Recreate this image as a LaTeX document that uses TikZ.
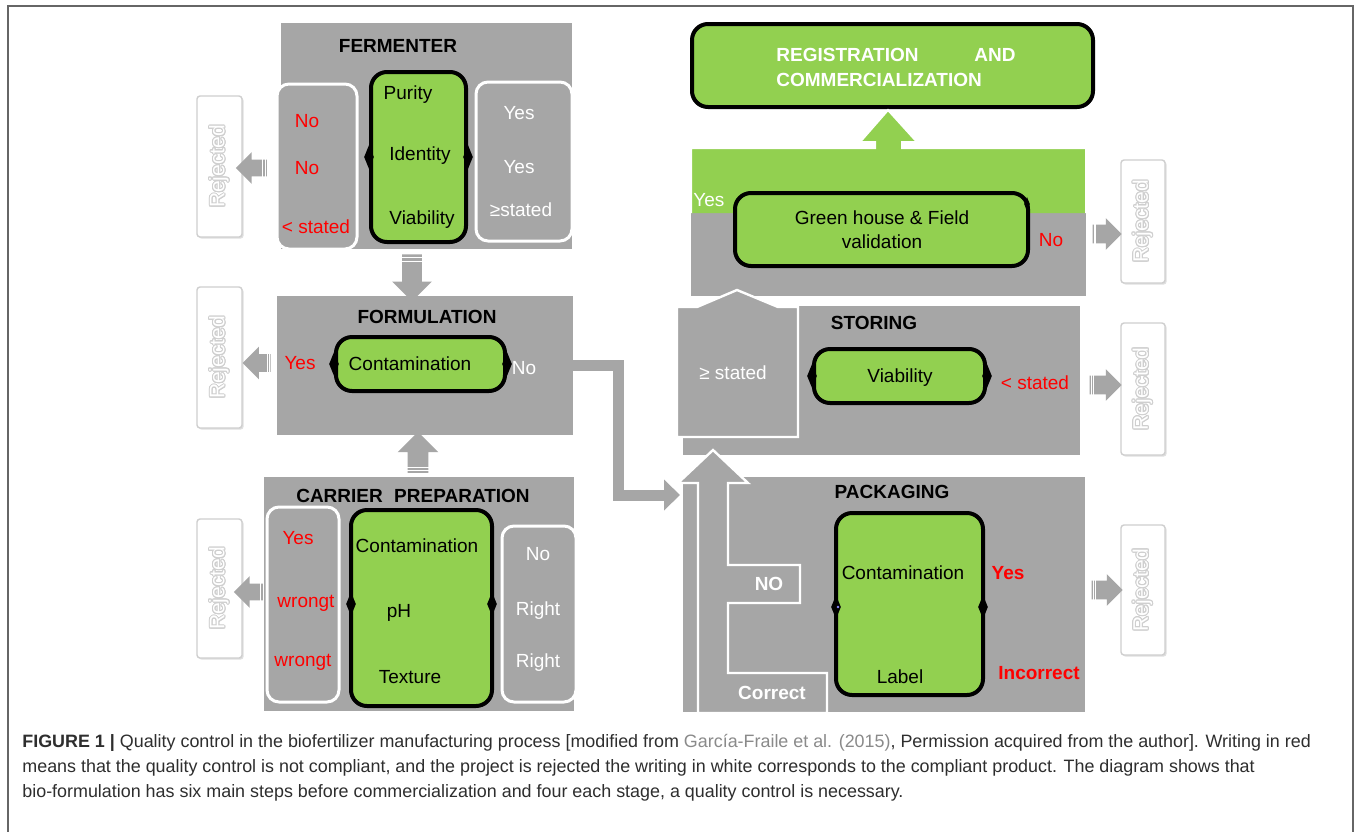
\documentclass[tikz,border=0pt]{standalone}
\usepackage{fontspec}
\setmainfont{Liberation Sans}
\usepackage[copies]{contour}
\contourlength{0.5pt}
\contournumber{16}
\usetikzlibrary{shapes.arrows,shapes.geometric,shadows,fit,arrows.meta,calc}
\definecolor{boxgray}{HTML}{A6A6A6}
\definecolor{qcgreen}{HTML}{92D050}
\definecolor{rejgray}{HTML}{CFCFCF}
\definecolor{capgray}{HTML}{2E2E2E}
\definecolor{linkgray}{HTML}{8A8A8A}
\definecolor{framegray}{HTML}{666666}
\tikzset{
  stage/.style={fill=boxgray, draw=none, inner sep=0pt},
  choice/.style={fill=boxgray, draw=white, line width=1.5pt, rounded corners=6pt, inner sep=0pt},
  test/.style={fill=qcgreen, draw=black, line width=2pt, rounded corners=8pt, inner sep=0pt},
  reject/.style={fill=white, draw=rejgray, line width=0.7pt, rounded corners=1.5pt, inner sep=0pt,
     drop shadow={opacity=0.25, shadow xshift=0.8pt, shadow yshift=-0.8pt}},
  rejtext/.style={rotate=90, font=\fontsize{10.5}{12}\selectfont},
  ttl/.style={font=\bfseries\fontsize{9.5}{11}\selectfont, text=black, inner sep=0pt},
  lbl/.style={font=\fontsize{9.5}{11}\selectfont, inner sep=0pt},
  bad/.style={lbl, text=red},
  badb/.style={font=\bfseries\fontsize{9.5}{11}\selectfont, text=red, inner sep=0pt},
  okw/.style={lbl, text=white},
  okb/.style={font=\bfseries\fontsize{9.5}{11}\selectfont, text=white, inner sep=0pt},
  tab/.style={diamond, fill=black, inner sep=0pt, minimum width=5pt, minimum height=12pt},
  stripe/.style={draw=white, line width=0.5pt},
  garrow/.style={single arrow, fill=boxgray, draw=none, inner xsep=0pt, inner ysep=4pt,
     single arrow head extend=3.75pt,
     append after command={
       ($(\tikzlastnode.before tail)!0.14!(\tikzlastnode.after head)$) edge[stripe]
       ($(\tikzlastnode.after tail)!0.14!(\tikzlastnode.before head)$)
       ($(\tikzlastnode.before tail)!0.28!(\tikzlastnode.after head)$) edge[stripe]
       ($(\tikzlastnode.after tail)!0.28!(\tikzlastnode.before head)$)}},
  conn/.style={draw=boxgray, line width=5.5pt, -{Triangle[width=15pt,length=8pt]}},
  captxt/.style={font=\fontsize{8.95}{10}\selectfont, text=capgray, inner sep=0pt, anchor=west}
}
\newcommand{\rejword}{\contour{rejgray}{\textcolor{white}{Rejected}}}
\begin{document}
\begin{tikzpicture}[x=0.5pt,y=-0.5pt]
\useasboundingbox (0,0) rectangle (1360,831);
\fill[white] (0,0) rectangle (1360,831);
\draw[framegray, line width=0.75pt] (8,840) -- (8,6) -- (1353,6) -- (1353,840);

% ---------------- FERMENTER ----------------
\node[stage, fit={(281,23)(572,249)}] (ferm) {};
\node[ttl] (fermT) at (398,46) {FERMENTER};
\node[choice, fit={(277,84)(357,249)}] (fermL) {};
\node[choice, fit={(476,82)(572,241)}] (fermR) {};
\node[test, fit={(371,72)(466,242)}] (fermG) {};
\node[tab] (fermGl) at (fermG.west) {};
\node[tab] (fermGr) at (fermG.east) {};
\node[lbl] (fP) at (408,95) {Purity};
\node[lbl] (fI) at (420,156) {Identity};
\node[lbl] (fV) at (422,220) {Viability};
\node[bad] (fN1) at (307,121) {No};
\node[bad] (fN2) at (307,168) {No};
\node[bad] (fN3) at (316,227) {< stated};
\node[okw] (fY1) at (519,113) {Yes};
\node[okw] (fY2) at (519,167) {Yes};
\node[okw] (fY3) at (521,210) {≥stated};
\node[reject, fit={(197,96)(242,237)}] (rej1) {};
\node[rejtext] at (rej1.center) {\rejword};
\node[garrow, rotate=180, minimum height=15.5pt] (ar1) at (255.5,168) {};

% ---------------- FORMULATION ----------------
\node[stage, fit={(277,296)(573,435)}] (form) {};
\node[ttl] (formT) at (427,317) {FORMULATION};
\node[test, fit={(336,337)(505,391)}] (formG) {};
\node[tab] (formGl) at (formG.west) {};
\node[tab] (formGr) at (formG.east) {};
\node[lbl] (formC) at (410,364) {Contamination};
\node[bad] (formY) at (300,363) {Yes};
\node[okw] (formN) at (524,368) {No};
\node[reject, fit={(197,287)(242,428)}] (rej2) {};
\node[rejtext] at (rej2.center) {\rejword};
\node[garrow, rotate=180, minimum height=14pt, inner ysep=4.25pt] (ar2) at (261,363) {};

% arrow fermenter -> formulation
\node[garrow, rotate=270, minimum height=23.5pt, inner ysep=4.75pt, single arrow head extend=5pt] (dn1) at (412,273) {};

% ---------------- CARRIER PREPARATION ----------------
\node[stage, fit={(264,477)(574,711)}] (carr) {};
\node[ttl] (carrT) at (413,496) {CARRIER\hspace{0.6em}PREPARATION};
\node[choice, fit={(267,507)(339,702)}] (carrL) {};
\node[choice, fit={(502,526)(576,702)}] (carrR) {};
\node[test, fit={(351,510)(492,706)}] (carrG) {};
\node[tab] (carrGl) at (351,604) {};
\node[tab] (carrGr) at (492,604) {};
\node[lbl] (cC) at (417,546) {Contamination};
\node[lbl] (cP) at (399,613) {pH};
\node[lbl] (cT) at (410,677) {Texture};
\node[bad] (cY) at (298,538) {Yes};
\node[bad] (cW1) at (306,603) {wrongt};
\node[bad] (cW2) at (303,662) {wrongt};
\node[okw] (cN) at (538,554) {No};
\node[okw] (cR1) at (538,611) {Right};
\node[okw] (cR2) at (538,663) {Right};
\node[reject, fit={(197,519)(242,658)}] (rej3) {};
\node[rejtext] at (rej3.center) {\rejword};
\node[garrow, rotate=180, minimum height=15.5pt] (ar3) at (253.5,592) {};

% arrow carrier -> formulation
\node[garrow, rotate=90, minimum height=20.5pt, inner ysep=5pt, single arrow head extend=5pt] (up1) at (418,457.5) {};

% connector formulation -> packaging
\coordinate (packin) at (680,495);
\draw[conn] (form.east) -- ++(45,0) |- (packin);

% ---------------- REGISTRATION ----------------
\node[test, fit={(692,24)(1093,107)}] (reg) {};
\node[okb, anchor=west] (regA) at (776,55) {REGISTRATION};
\node[okb, anchor=west] (regB) at (974,55) {AND};
\node[okb, anchor=west] (regC) at (776,80) {COMMERCIALIZATION};

% ---------------- GREEN HOUSE ----------------
\node[stage, fit={(691,213)(1086,296)}] (gh) {};
\fill[qcgreen] (691,213) -- (691,148) -- (875,148) -- (875,142) -- (860,142) -- (888,110)
   -- (917,142) -- (902,142) -- (902,148) -- (1086,148) -- (1086,213) -- cycle;
\draw[white, line width=1pt] (691,213) -- (691,148) -- (875,148) -- (875,142) -- (860,142) -- (888,110)
   -- (917,142) -- (902,142) -- (902,148) -- (1086,148) -- (1086,213);
\node[okw, anchor=west] (ghY) at (693,200) {Yes};
\node[test, fit={(735,193)(1028,266)}] (ghG) {};
\node[tab, minimum width=3pt, minimum height=7pt] (ghGr) at (1027,204) {};
\node[lbl] (ghT1) at (882,218) {Green house \& Field};
\node[lbl] (ghT2) at (882,242) {validation};
\node[bad] (ghN) at (1051,240) {No};
\node[reject, fit={(1121,160)(1165,283)}] (rej4) {};
\node[rejtext] at (rej4.center) {\rejword};
\node[garrow, minimum height=14.5pt, inner ysep=4.5pt, single arrow head extend=3.25pt] (ar4) at (1102.5,234) {};

% ---------------- STORING ----------------
\node[stage, fit={(683,306)(1080,455)}] (stor) {};
\draw[fill=boxgray, draw=white, line width=1.2pt] (677,437) -- (677,307) -- (697,307) -- (737,290)
   -- (778,307) -- (798,307) -- (798,437) -- cycle;
\node[okw] (sGe) at (733,373) {≥ stated};
\node[ttl] (storT) at (874,323) {STORING};
\node[test, fit={(814,349)(985,403)}] (storG) {};
\node[tab] (storGl) at (storG.west) {};
\node[tab] (storGr) at (storG.east) {};
\node[lbl] (storV) at (900,378) {Viability};
\node[bad] (storL) at (1035,383) {< stated};
\node[reject, fit={(1121,323)(1165,455)}] (rej5) {};
\node[rejtext] at (rej5.center) {\rejword};
\node[garrow, minimum height=16pt, inner ysep=4.5pt, single arrow head extend=3.25pt] (ar5) at (1101,385) {};

% ---------------- PACKAGING ----------------
\node[stage, fit={(683,477)(1085,712)}] (pack) {};
\draw[fill=boxgray, draw=white, line width=1.2pt] (698,713) -- (698,483) -- (678,483) -- (713,450)
   -- (748,483) -- (728,483) -- (728,565) -- (800,565) -- (800,603) -- (728,603) -- (728,673)
   -- (827,673) -- (827,713) -- cycle;
\node[okb] (pNO) at (769,584) {NO};
\node[okb] (pCor) at (772,693) {Correct};
\node[ttl] (packT) at (892,492) {PACKAGING};
\node[test, fit={(836,513)(983,695)}] (packG) {};
\node[tab] (packGl) at (836,607) {};
\node[tab] (packGr) at (983,607) {};
\fill[blue!45] (838,607) circle (1.3);
\node[lbl] (pC) at (903,573) {Contamination};
\node[lbl] (pL) at (900,677) {Label};
\node[badb] (pY) at (1008,573) {Yes};
\node[badb] (pI) at (1039,673) {Incorrect};
\node[reject, fit={(1121,525)(1165,655)}] (rej6) {};
\node[rejtext] at (rej6.center) {\rejword};
\node[garrow, minimum height=15.5pt, inner ysep=4.5pt, single arrow head extend=3.25pt] (ar6) at (1102.5,590) {};

% ---------------- CAPTION ----------------
\node[captxt] (cap1) at (22,743) {\textbf{FIGURE 1 |} Quality control in the biofertilizer manufacturing process [modified from \textcolor{linkgray}{García-Fraile et al. (2015)}, Permission acquired from the author]. Writing in red};
\node[captxt] (cap2) at (22,768) {means that the quality control is not compliant, and the project is rejected the writing in white corresponds to the compliant product. The diagram shows that};
\node[captxt] (cap3) at (22,793) {bio-formulation has six main steps before commercialization and four each stage, a quality control is necessary.};
\end{tikzpicture}
\end{document}
